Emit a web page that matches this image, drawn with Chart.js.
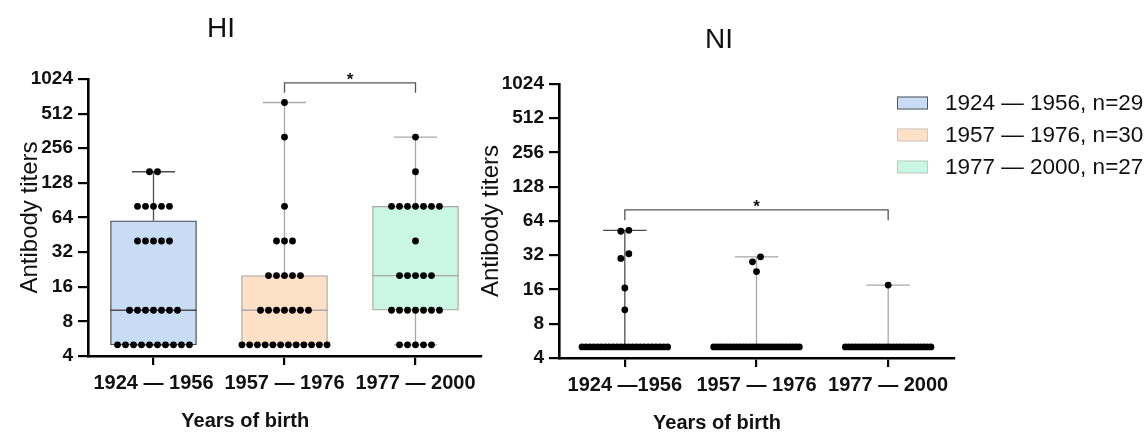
<!DOCTYPE html>
<html>
<head>
<meta charset="utf-8">
<script src="https://cdn.jsdelivr.net/npm/chart.js@4.4.1/dist/chart.umd.min.js"></script>
<style>
  body { margin: 0; background: #fff; }
  #wrap { position: relative; width: 1148px; height: 432px; overflow: hidden; }
  canvas { position: absolute; top: 0; }
  #hi { left: 0; }
  #ni { left: 460px; }
</style>
</head>
<body>
<div id="wrap">
  <canvas id="hi" width="520" height="432"></canvas>
  <canvas id="ni" width="688" height="432"></canvas>
</div>
<script>
// category labels (NI panel has no space before 1956 in the original)
const hiLabels = ['1924 — 1956', '1957 — 1976', '1977 — 2000'];
const niLabels = ['1924 —1956', '1957 — 1976', '1977 — 2000'];
const legendLabels = ['1924 — 1956, n=29', '1957 — 1976, n=30', '1977 — 2000, n=27'];
const yTicks = [4, 8, 16, 32, 64, 128, 256, 512, 1024];

// HI titers per birth cohort (5 = below detection limit)
const hi1924 = [5, 5, 5, 5, 5, 5, 5, 5, 5, 5, 10, 10, 10, 10, 10, 10, 10,
  40, 40, 40, 40, 40, 80, 80, 80, 80, 80, 160, 160];
const hi1957 = [5, 5, 5, 5, 5, 5, 5, 5, 5, 5, 5, 5, 10, 10, 10, 10, 10, 10, 10,
  20, 20, 20, 20, 20, 40, 40, 40, 80, 320, 640];
const hi1977 = [5, 5, 5, 5, 5, 10, 10, 10, 10, 10, 10, 10, 20, 20, 20, 20, 20,
  40, 80, 80, 80, 80, 80, 80, 80, 160, 320];

// NI titers per birth cohort
const ni1924 = [5, 5, 5, 5, 5, 5, 5, 5, 5, 5, 5, 5, 5, 5, 5, 5, 5, 5, 5, 5, 5, 5, 5,
  10.6, 16.5, 30, 33, 52, 53];
const ni1957 = [5, 5, 5, 5, 5, 5, 5, 5, 5, 5, 5, 5, 5, 5, 5, 5, 5, 5, 5, 5, 5, 5, 5, 5, 5, 5, 5,
  23, 28, 31];
const ni1977 = [5, 5, 5, 5, 5, 5, 5, 5, 5, 5, 5, 5, 5, 5, 5, 5, 5, 5, 5, 5, 5, 5, 5, 5, 5, 5,
  17.5];

const boxFill = ['#c8dcf6', '#fde0c5', '#c9f6e5'];
const boxLine = ['#4d4d4d', '#a8a8a8', '#a8a8a8'];
const legendLine = ['#555', '#c8c8c8', '#c8c8c8'];

const FONT = '"Liberation Sans", Arial, sans-serif';
Chart.defaults.font.family = FONT;
Chart.defaults.color = '#111';

// quartiles the (n+1)p way
function quantile(s, p) {
  const pos = (s.length + 1) * p;
  if (pos <= 1) return s[0];
  if (pos >= s.length) return s[s.length - 1];
  const lo = Math.floor(pos);
  return s[lo - 1] + (pos - lo) * (s[lo] - s[lo - 1]);
}

function stats(vals) {
  const s = vals.slice().sort((a, b) => a - b);
  return { min: s[0], q1: quantile(s, 0.25), med: quantile(s, 0.5), q3: quantile(s, 0.75), max: s[s.length - 1] };
}

// put equal / nearly equal titers side by side
function swarm(vals, center) {
  const s = vals.slice().sort((a, b) => a - b);
  const rows = [];
  s.forEach(v => {
    const row = rows[rows.length - 1];
    if (row && Math.log2(v / row[row.length - 1]) < 0.19) row.push(v);
    else rows.push([v]);
  });
  const pts = [];
  rows.forEach(row => {
    const n = row.length;
    const step = n > 1 ? Math.min(0.061, 0.65 / (n - 1)) : 0;
    row.forEach((v, j) => pts.push({ x: center + (j - (n - 1) / 2) * step, y: v }));
  });
  return pts;
}

function makeDatasets(groups) {
  const st = groups.map(stats);
  const cap = 0.165;
  const boxes = {
    type: 'bar',
    data: st.map((s, i) => ({ x: i, y: s.q3 > s.q1 ? [s.q1, s.q3] : null })),
    backgroundColor: boxFill,
    borderColor: boxLine,
    borderWidth: 1.3,
    borderSkipped: false,
    barThickness: 86,
    grouped: false,
    order: 3
  };
  const whiskers = st.map((s, i) => ({
    type: 'line',
    data: [
      { x: i, y: s.min }, { x: i, y: s.q1 }, { x: i, y: null },
      { x: i, y: s.q3 }, { x: i, y: s.max }, { x: i, y: null },
      { x: i - cap, y: s.max }, { x: i + cap, y: s.max }, { x: i, y: null },
      { x: i - cap, y: s.min }, { x: i + cap, y: s.min }, { x: i, y: null },
      ...(s.q3 > s.q1 ? [{ x: i - 0.33, y: s.med }, { x: i + 0.33, y: s.med }] : [])
    ],
    borderColor: boxLine[i],
    borderWidth: 1.3,
    pointRadius: 0,
    fill: false,
    tension: 0,
    order: 2
  }));
  const dots = {
    type: 'scatter',
    data: groups.flatMap((g, i) => swarm(g, i)),
    backgroundColor: '#000',
    borderWidth: 0,
    pointRadius: 3.4,
    order: 1
  };
  return [dots, ...whiskers, boxes];
}

// titles, axis titles, significance bracket, legend
function makeAnnotate(cfg) {
  return {
    id: 'annotate',
    afterDraw(chart) {
      const { ctx, scales: { x, y }, chartArea } = chart;
      ctx.save();
      ctx.fillStyle = '#111';
      ctx.textAlign = 'center';
      ctx.textBaseline = 'middle';

      ctx.font = '28px ' + FONT;
      ctx.fillText(cfg.title, cfg.titleX, cfg.titleY);

      ctx.font = 'bold 20px ' + FONT;
      ctx.fillText('Years of birth', x.getPixelForValue(0.7), cfg.xTitleY);

      ctx.save();
      ctx.translate(cfg.yTitleX, (chartArea.top + chartArea.bottom) / 2);
      ctx.rotate(-Math.PI / 2);
      ctx.font = '24px ' + FONT;
      ctx.fillText('Antibody titers', 0, 0);
      ctx.restore();

      const b = cfg.bracket;
      const x0 = x.getPixelForValue(b.from), x1 = x.getPixelForValue(b.to);
      const yl = y.getPixelForValue(b.y), yb = y.getPixelForValue(b.leg);
      ctx.strokeStyle = '#555';
      ctx.lineWidth = 1.3;
      ctx.beginPath();
      ctx.moveTo(x0, yb); ctx.lineTo(x0, yl); ctx.lineTo(x1, yl); ctx.lineTo(x1, yb);
      ctx.stroke();
      ctx.font = 'bold 17px ' + FONT;
      ctx.textBaseline = 'alphabetic';
      ctx.fillText('*', (x0 + x1) / 2, yl + 2);

      if (cfg.legend) {
        const L = cfg.legend;
        ctx.textAlign = 'left';
        ctx.textBaseline = 'middle';
        ctx.font = '22.5px ' + FONT;
        legendLabels.forEach((t, i) => {
          const cy = L.y + i * L.gap;
          ctx.fillStyle = boxFill[i];
          ctx.fillRect(L.x, cy - 6.5, 31, 13);
          ctx.strokeStyle = legendLine[i];
          ctx.lineWidth = 1;
          ctx.strokeRect(L.x + 0.5, cy - 6, 30, 12);
          ctx.fillStyle = '#111';
          ctx.fillText(t, L.x + 48, cy + 1);
        });
      }
      ctx.restore();
    }
  };
}

function makeChart(id, groups, labels, cfg) {
  return new Chart(document.getElementById(id), {
    type: 'scatter',
    data: { datasets: makeDatasets(groups) },
    options: {
      responsive: false,
      animation: false,
      events: [],
      layout: { padding: cfg.padding },
      plugins: { legend: { display: false }, tooltip: { enabled: false } },
      scales: {
        x: {
          type: 'linear', min: -0.5, max: 2.5, offset: false,
          afterBuildTicks: s => { s.ticks = [0, 1, 2].map(v => ({ value: v })); },
          afterFit: s => { s.height = cfg.xHeight; },
          ticks: {
            callback: v => labels[v],
            font: { size: 20, weight: 'bold' }, color: '#111',
            padding: 6, maxRotation: 0, autoSkip: false
          },
          grid: { drawOnChartArea: false, offset: false, tickLength: 9, color: '#000', lineWidth: 2.2 },
          border: { color: '#000', width: 2.6 }
        },
        y: {
          type: 'logarithmic', min: 4, max: 1024,
          afterBuildTicks: s => { s.ticks = yTicks.map(v => ({ value: v })); },
          afterFit: s => { s.width = 60; },
          ticks: {
            callback: v => String(v),
            font: { size: 19, weight: 'bold' }, color: '#111', padding: 5
          },
          grid: { drawOnChartArea: false, tickLength: 10, color: '#000', lineWidth: 2.2 },
          border: { color: '#000', width: 2.6 }
        }
      }
    },
    plugins: [makeAnnotate(cfg)]
  });
}

makeChart('hi', [hi1924, hi1957, hi1977], hiLabels, {
  padding: { left: 28, right: 39, top: 79, bottom: 0 },
  xHeight: 76,
  title: 'HI', titleX: 221, titleY: 29,
  yTitleX: 30, xTitleY: 421,
  bracket: { from: 1, to: 2, y: 949, leg: 776 }
});

makeChart('ni', [ni1924, ni1957, ni1977], niLabels, {
  padding: { left: 39, right: 194, top: 84, bottom: 0 },
  xHeight: 74,
  title: 'NI', titleX: 259, titleY: 40,
  yTitleX: 31, xTitleY: 423,
  bracket: { from: 0, to: 2, y: 80, leg: 65 },
  legend: { x: 437, y: 103, gap: 32 }
});
</script>
</body>
</html>
